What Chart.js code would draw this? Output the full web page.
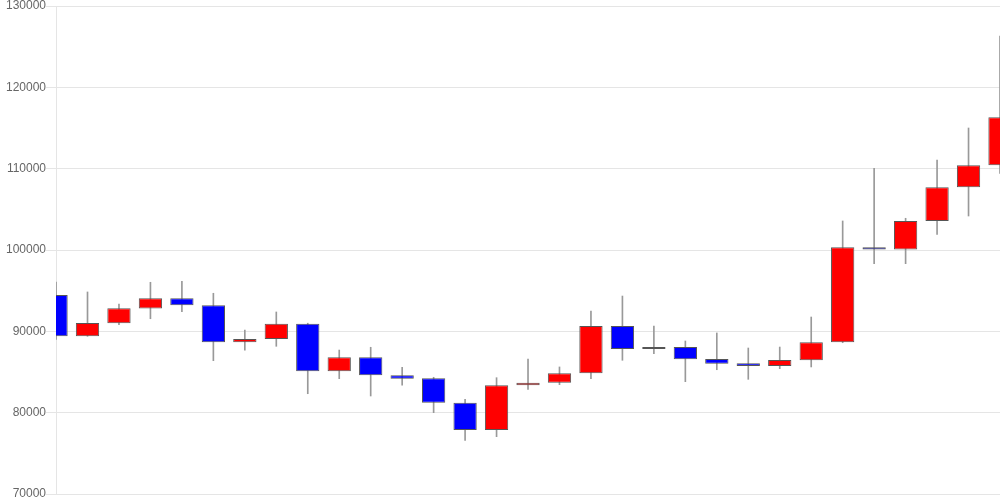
<!DOCTYPE html>
<html>
<head>
<meta charset="utf-8">
<script src="https://cdn.jsdelivr.net/npm/chart.js@4/dist/chart.umd.min.js"></script>
<style>
  body { margin: 0; background: #fff; }
  #grafico { width: 1000px; height: 500px; }
</style>
</head>
<body>
<div id="grafico"><canvas id="velas"></canvas></div>
<script>
// dados (um candle por dia)
var dias = ['1', '2', '3', '4', '5', '6', '7', '8', '9', '10', '11', '12', '13', '14', '15', '16',
  '17', '18', '19', '20', '21', '22', '23', '24', '25', '26', '27', '28', '29', '30', '31'];

var abertura = [94470, 89390, 90990, 92800, 94060, 93200, 88650, 89060, 90940, 85090, 86810,
  84590, 84230, 81230, 77870, 83370, 83690, 84840, 90660, 87830, 88070, 86600, 86070, 85740,
  86440, 88650, 100330, 100060, 103570, 107710, 110410];

var fechamento = [89390, 91020, 92830, 94060, 93200, 88650, 89060, 90940, 85090, 86810, 84590,
  84180, 81230, 77870, 83370, 83690, 84840, 90660, 87830, 88070, 86560, 86020, 85740, 86480,
  88650, 100330, 100060, 103570, 107710, 110410, 116320];

var maxima = [96070, 94840, 93360, 96030, 96150, 94680, 90160, 92380, 91000, 87700, 88040,
  85580, 84350, 81640, 84300, 86600, 85620, 92500, 94340, 90660, 88810, 89800, 87950, 88070,
  91760, 103570, 110050, 103900, 111070, 115000, 126310];

var minima = [89020, 89390, 90820, 91550, 92410, 86390, 87670, 88160, 82330, 84180, 82050,
  83370, 80000, 76600, 77050, 82870, 83440, 84180, 86440, 87250, 83810, 85280, 84100, 85410,
  85620, 88600, 98320, 98320, 101930, 104180, 109430];

var yTicks = [70000, 80000, 90000, 100000, 110000, 120000, 130000];

// montando corpo e pavio de cada candle
var corpos = [];
var pavios = [];
var cores = [];
for (var i = 0; i < dias.length; i++) {
  corpos.push([abertura[i], fechamento[i]]);
  pavios.push([minima[i], maxima[i]]);
  cores.push(fechamento[i] >= abertura[i] ? '#ff0000' : '#0000ff');
}

var config = {
  type: 'bar',
  data: {
    labels: dias,
    datasets: [{
      label: 'corpo',
      data: corpos,
      backgroundColor: cores,
      borderColor: '#555',
      borderWidth: 1,
      borderSkipped: false,
      barPercentage: 0.74,
      categoryPercentage: 1,
      order: 0
    },
    {
      label: 'pavio',
      data: pavios,
      backgroundColor: '#999',
      borderWidth: 0,
      barThickness: 1,
      order: 1
    }]
  },
  options: {
    responsive: true,
    maintainAspectRatio: false,
    animation: false,
    layout: {
      padding: { left: 6 }
    },
    plugins: {
      legend: { display: false },
      tooltip: { enabled: false }
    },
    scales: {
      x: {
        display: false,
        offset: false,
        stacked: false
      },
      y: {
        min: 70000,
        max: 130000,
        afterBuildTicks: function (axis) {
          axis.ticks = yTicks.map(function (v) { return { value: v }; });
        },
        grid: { color: 'rgba(0,0,0,0.1)', tickLength: 10 },
        border: { color: 'rgba(0,0,0,0.1)' },
        ticks: {
          color: '#666',
          padding: 0,
          font: { size: 12, lineHeight: 1 },
          callback: function (v) { return String(v); }
        }
      }
    }
  }
};

// barras na mesma posicao (pavio atras do corpo)
config.options.datasets = { bar: { grouped: false } };

var myChart = new Chart(document.getElementById('velas'), config);
</script>
</body>
</html>
